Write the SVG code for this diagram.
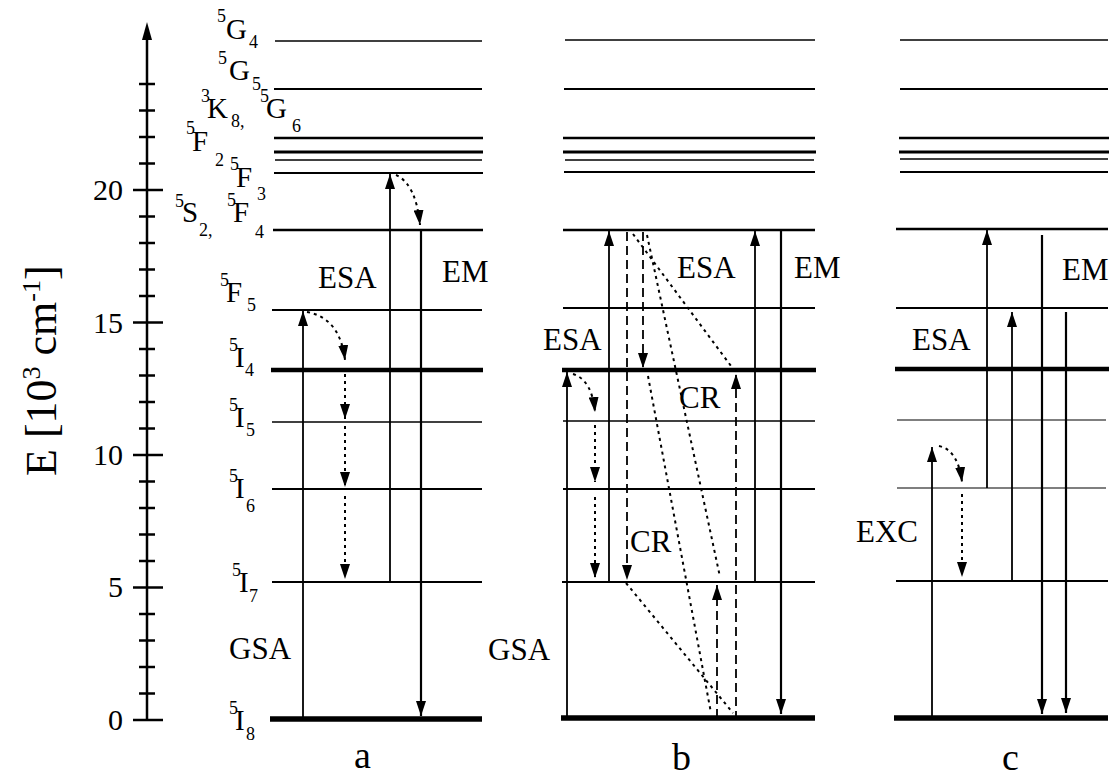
<svg xmlns="http://www.w3.org/2000/svg" width="1117" height="778" viewBox="0 0 1117 778">
<style>
text{font-family:'Liberation Serif','Times New Roman',serif;fill:#000}
.num{font-size:30px}
.ss{font-size:18px}
.main{font-size:29px}
.lab{font-size:31px}
.pan{font-size:38px}
.lv{stroke:#000;fill:none}
.tk{stroke:#000;stroke-width:2.5}
.ar{stroke:#000;stroke-width:1.8;fill:none}
.em{stroke:#000;stroke-width:2.2;fill:none}
.dot{stroke:#000;stroke-width:2;stroke-dasharray:3 4;fill:none}
.dash{stroke:#000;stroke-width:1.8;stroke-dasharray:9 5;fill:none}
</style>
<defs>
<marker id="ah" markerUnits="userSpaceOnUse" markerWidth="16" markerHeight="10" refX="15" refY="5" orient="auto">
<path d="M0,0 L15,5 L0,10 z" fill="#000"/>
</marker>
</defs>

<g id="axis">
<line class="tk" x1="147" y1="720" x2="147" y2="35"/>
<path d="M147,22 L152,40 L142,40 z" fill="#000"/>
<g class="tk">
<line x1="133" y1="720" x2="163" y2="720"/>
<line x1="139" y1="693.5" x2="155" y2="693.5"/>
<line x1="139" y1="667" x2="155" y2="667"/>
<line x1="139" y1="640.5" x2="155" y2="640.5"/>
<line x1="139" y1="614" x2="155" y2="614"/>
<line x1="133" y1="587.5" x2="163" y2="587.5"/>
<line x1="139" y1="561" x2="155" y2="561"/>
<line x1="139" y1="534.5" x2="155" y2="534.5"/>
<line x1="139" y1="508" x2="155" y2="508"/>
<line x1="139" y1="481.5" x2="155" y2="481.5"/>
<line x1="133" y1="455" x2="163" y2="455"/>
<line x1="139" y1="428.5" x2="155" y2="428.5"/>
<line x1="139" y1="402" x2="155" y2="402"/>
<line x1="139" y1="375.5" x2="155" y2="375.5"/>
<line x1="139" y1="349" x2="155" y2="349"/>
<line x1="133" y1="322.5" x2="163" y2="322.5"/>
<line x1="139" y1="296" x2="155" y2="296"/>
<line x1="139" y1="269.5" x2="155" y2="269.5"/>
<line x1="139" y1="243" x2="155" y2="243"/>
<line x1="139" y1="216.5" x2="155" y2="216.5"/>
<line x1="133" y1="190" x2="163" y2="190"/>
<line x1="139" y1="163.5" x2="155" y2="163.5"/>
<line x1="139" y1="137" x2="155" y2="137"/>
<line x1="139" y1="110.5" x2="155" y2="110.5"/>
<line x1="139" y1="84" x2="155" y2="84"/>
</g>
<g class="num" text-anchor="end">
<text class="num" x="123" y="730">0</text>
<text class="num" x="123" y="597">5</text>
<text class="num" x="123" y="465">10</text>
<text class="num" x="123" y="333">15</text>
<text class="num" x="123" y="200">20</text>
</g>
<text transform="translate(56,476) rotate(-90)" style="font-size:44px">E [10<tspan dy="-16" style="font-size:26px">3</tspan><tspan dy="16"> cm</tspan><tspan dy="-16" style="font-size:26px">-1</tspan><tspan dy="16">]</tspan></text>
</g>

<g id="level-labels">
<g id="lbl-5G4"><text class="ss" x="217" y="22">5</text><text class="main" x="226" y="39">G</text><text class="ss" x="249" y="48">4</text></g>
<g id="lbl-5G5"><text class="ss" x="218" y="64">5</text><text class="main" x="229" y="80">G</text><text class="ss" x="252" y="90">5</text></g>
<g id="lbl-3K8-5G6"><text class="ss" x="201" y="102">3</text><text class="main" x="207" y="118">K</text><text class="ss" x="231" y="127">8,</text><text class="ss" x="260" y="102">5</text><text class="main" x="266" y="118">G</text><text class="ss" x="292" y="132">6</text></g>
<g id="lbl-5F2"><text class="ss" x="186" y="134">5</text><text class="main" x="192" y="151">F</text><text class="ss" x="215" y="166">2</text></g>
<g id="lbl-5F3"><text class="ss" x="230" y="170">5</text><text class="main" x="236" y="187">F</text><text class="ss" x="257" y="200">3</text></g>
<g id="lbl-5S2-5F4"><text class="ss" x="175" y="207">5</text><text class="main" x="182" y="222">S</text><text class="ss" x="199" y="236">2,</text><text class="ss" x="227" y="206">5</text><text class="main" x="233" y="222">F</text><text class="ss" x="255" y="238">4</text></g>
<g id="lbl-5F5"><text class="ss" x="220" y="286">5</text><text class="main" x="226" y="302">F</text><text class="ss" x="247" y="311">5</text></g>
<g id="lbl-5I4"><text class="ss" x="229" y="351">5</text><text class="main" x="235" y="367">I</text><text class="ss" x="245" y="376">4</text></g>
<g id="lbl-5I5"><text class="ss" x="229" y="411">5</text><text class="main" x="235" y="427">I</text><text class="ss" x="246" y="436">5</text></g>
<g id="lbl-5I6"><text class="ss" x="229" y="482">5</text><text class="main" x="235" y="498">I</text><text class="ss" x="246" y="512">6</text></g>
<g id="lbl-5I7"><text class="ss" x="232" y="576">5</text><text class="main" x="239" y="592">I</text><text class="ss" x="249" y="602">7</text></g>
<g id="lbl-5I8"><text class="ss" x="229" y="714">5</text><text class="main" x="235" y="730">I</text><text class="ss" x="246" y="740">8</text></g>
</g>

<g id="levels-a" class="lv">
<line x1="275" y1="41" x2="482" y2="41" stroke-width="1.5"/>
<line x1="274" y1="89" x2="482" y2="89" stroke-width="2"/>
<line x1="274" y1="138" x2="483" y2="138" stroke-width="2.5"/>
<line x1="274" y1="152" x2="483" y2="152" stroke-width="3.2"/>
<line x1="275" y1="160" x2="482" y2="160" stroke-width="1.5"/>
<line x1="274" y1="173" x2="483" y2="173" stroke-width="2"/>
<line x1="273" y1="230" x2="483" y2="230" stroke-width="2.5"/>
<line x1="272" y1="310" x2="482" y2="310" stroke-width="2"/>
<line x1="271" y1="370" x2="483" y2="370" stroke-width="4.5"/>
<line x1="272" y1="422" x2="482" y2="422" stroke-width="1.5"/>
<line x1="272" y1="489" x2="482" y2="489" stroke-width="1.8"/>
<line x1="272" y1="582" x2="482" y2="582" stroke-width="2"/>
<line x1="270" y1="719" x2="482" y2="719" stroke-width="5.5"/>
</g>
<g id="levels-b" class="lv">
<line x1="565" y1="40" x2="815" y2="40" stroke-width="1.5"/>
<line x1="564" y1="89" x2="815" y2="89" stroke-width="2"/>
<line x1="563" y1="138" x2="815" y2="138" stroke-width="2.5"/>
<line x1="563" y1="152" x2="816" y2="152" stroke-width="3.2"/>
<line x1="565" y1="160" x2="814" y2="160" stroke-width="1.5"/>
<line x1="564" y1="172" x2="815" y2="172" stroke-width="2"/>
<line x1="563" y1="230" x2="815" y2="230" stroke-width="2.5"/>
<line x1="563" y1="308" x2="815" y2="308" stroke-width="2"/>
<line x1="562" y1="370" x2="816" y2="370" stroke-width="4.5"/>
<line x1="563" y1="421" x2="815" y2="421" stroke-width="1.5"/>
<line x1="563" y1="489" x2="815" y2="489" stroke-width="1.8"/>
<line x1="562" y1="582" x2="815" y2="582" stroke-width="2"/>
<line x1="561" y1="718" x2="815" y2="718" stroke-width="5.5"/>
</g>
<g id="levels-c" class="lv">
<line x1="900" y1="40" x2="1108" y2="40" stroke-width="1.5"/>
<line x1="900" y1="89" x2="1108" y2="89" stroke-width="2"/>
<line x1="899" y1="138" x2="1109" y2="138" stroke-width="2.5"/>
<line x1="899" y1="152" x2="1109" y2="152" stroke-width="3.2"/>
<line x1="900" y1="159" x2="1108" y2="159" stroke-width="1.5"/>
<line x1="900" y1="172" x2="1108" y2="172" stroke-width="2"/>
<line x1="896" y1="229" x2="1108" y2="229" stroke-width="2.5"/>
<line x1="896" y1="308" x2="1108" y2="308" stroke-width="2"/>
<line x1="895" y1="369" x2="1109" y2="369" stroke-width="4.5"/>
<line x1="897" y1="420" x2="1106" y2="420" stroke-width="1.2"/>
<line x1="897" y1="488" x2="1106" y2="488" stroke-width="1.2"/>
<line x1="896" y1="581" x2="1108" y2="581" stroke-width="2"/>
<line x1="894" y1="718" x2="1108" y2="718" stroke-width="5.5"/>
</g>

<g id="connectors">
<line class="ar" x1="303" y1="719" x2="303" y2="311" marker-end="url(#ah)"/>
<line class="ar" x1="390" y1="582" x2="390" y2="174" marker-end="url(#ah)"/>
<line class="em" x1="421" y1="230" x2="421" y2="716" marker-end="url(#ah)"/>
<line class="ar" x1="567" y1="718" x2="567" y2="372" marker-end="url(#ah)"/>
<line class="ar" x1="609" y1="582" x2="609" y2="231" marker-end="url(#ah)"/>
<line class="ar" x1="755" y1="582" x2="755" y2="231" marker-end="url(#ah)"/>
<line class="em" x1="781" y1="230" x2="781" y2="714" marker-end="url(#ah)"/>
<line class="ar" x1="932" y1="718" x2="932" y2="447" marker-end="url(#ah)"/>
<line class="ar" x1="987" y1="488" x2="987" y2="230" marker-end="url(#ah)"/>
<line class="ar" x1="1012" y1="581" x2="1012" y2="312" marker-end="url(#ah)"/>
<line class="em" x1="1042" y1="235" x2="1042" y2="714" marker-end="url(#ah)"/>
<line class="em" x1="1066" y1="312" x2="1066" y2="713" marker-end="url(#ah)"/>
<path class="dot" d="M307,312 Q340,318 345,360" marker-end="url(#ah)"/>
<line class="dot" x1="345" y1="374" x2="345" y2="419" marker-end="url(#ah)"/>
<line class="dot" x1="345" y1="426" x2="345" y2="487" marker-end="url(#ah)"/>
<line class="dot" x1="345" y1="496" x2="345" y2="579" marker-end="url(#ah)"/>
<path class="dot" d="M396,175 Q416,184 420,225" marker-end="url(#ah)"/>
<path class="dot" d="M573,374 Q592,380 595,412" marker-end="url(#ah)"/>
<line class="dot" x1="595" y1="425" x2="595" y2="482" marker-end="url(#ah)"/>
<line class="dot" x1="595" y1="497" x2="595" y2="578" marker-end="url(#ah)"/>
<line class="dot" x1="633" y1="234" x2="731" y2="366"/>
<line class="dot" x1="647" y1="235" x2="720" y2="577"/>
<line class="dot" x1="648" y1="376" x2="711" y2="713"/>
<line class="dot" x1="626" y1="583" x2="733" y2="713"/>
<path class="dot" d="M939,446 Q958,450 962,482" marker-end="url(#ah)"/>
<line class="dot" x1="962" y1="494" x2="962" y2="577" marker-end="url(#ah)"/>
<line class="dash" x1="627" y1="232" x2="627" y2="580" marker-end="url(#ah)"/>
<line class="dash" x1="643" y1="232" x2="643" y2="368" marker-end="url(#ah)"/>
<line class="dash" x1="717" y1="718" x2="717" y2="585" marker-end="url(#ah)"/>
<line class="dash" x1="736" y1="720" x2="736" y2="374" marker-end="url(#ah)"/>
</g>

<g id="process-labels">
<text class="lab" x="318" y="288">ESA</text>
<text class="lab" x="442" y="282">EM</text>
<text class="lab" x="229" y="659">GSA</text>
<text class="lab" x="543" y="350">ESA</text>
<text class="lab" x="677" y="278">ESA</text>
<text class="lab" x="794" y="278">EM</text>
<text class="lab" x="679" y="408">CR</text>
<text class="lab" x="630" y="552">CR</text>
<text class="lab" x="488" y="660">GSA</text>
<text class="lab" x="912" y="350">ESA</text>
<text class="lab" x="1062" y="280">EM</text>
<text class="lab" x="856" y="542">EXC</text>
</g>

<g id="panel-labels">
<text class="pan" x="354" y="768">a</text>
<text class="pan" x="672" y="770">b</text>
<text class="pan" x="1002" y="770">c</text>
</g>
</svg>
